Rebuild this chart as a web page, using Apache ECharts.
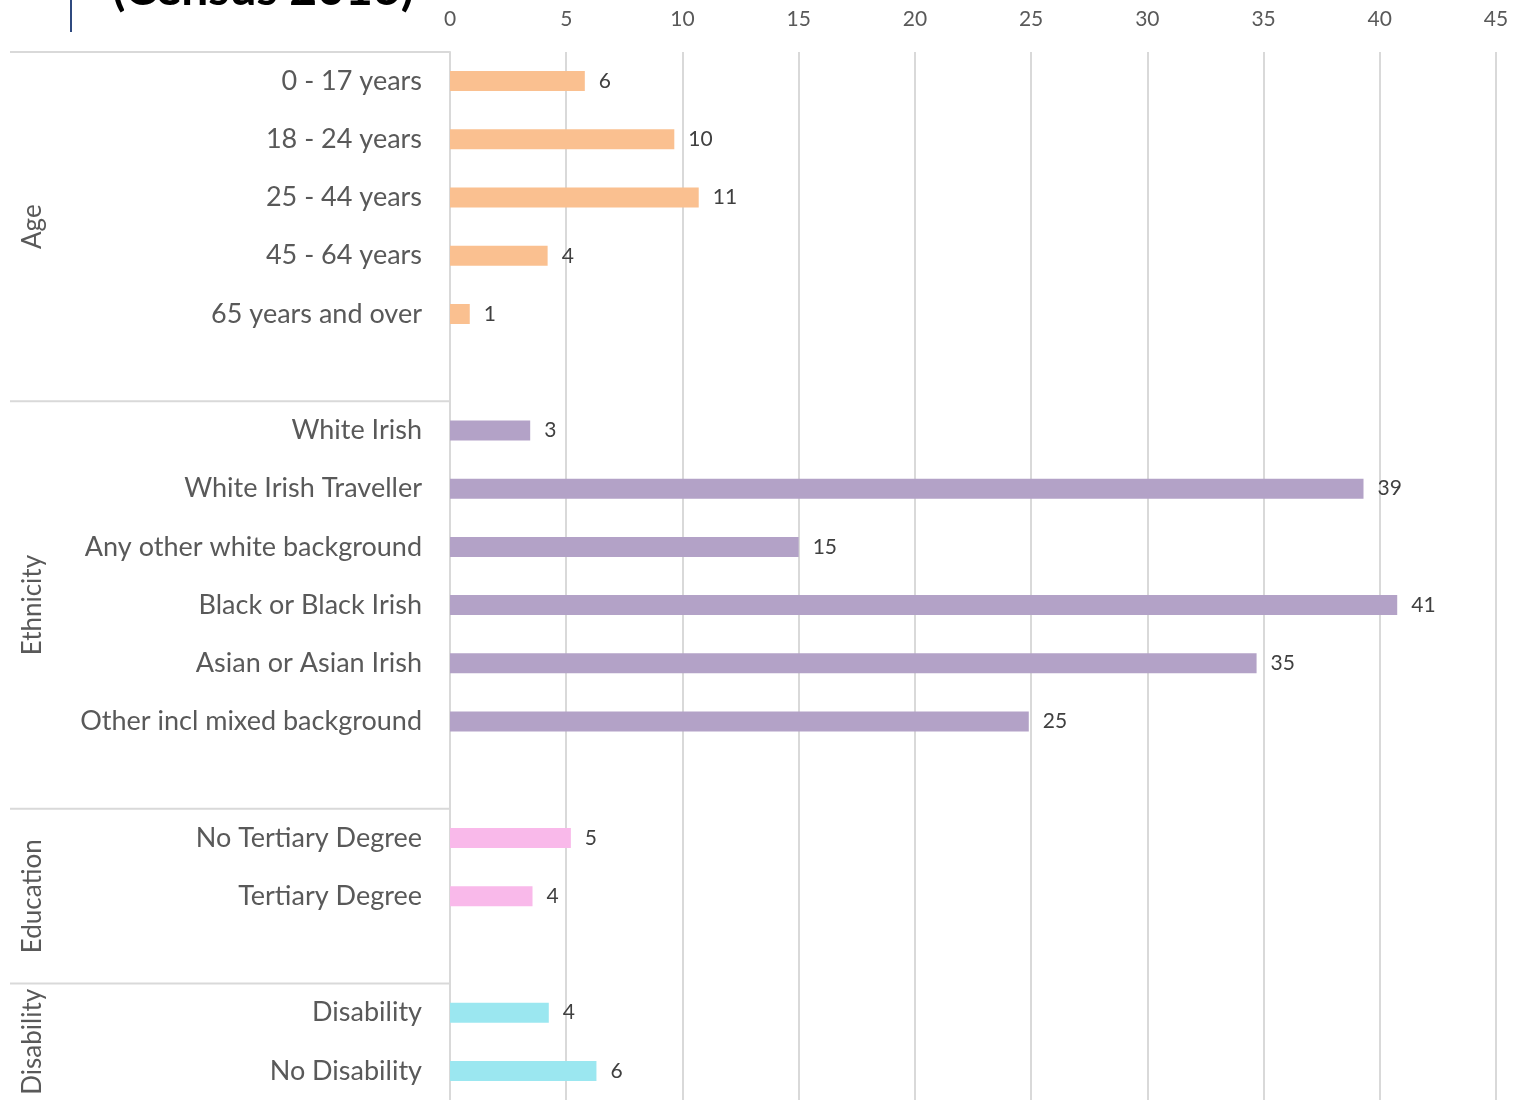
<!DOCTYPE html>
<html lang="en">
<head>
<meta charset="utf-8">
<title>Census 2016</title>
<script src="https://cdn.jsdelivr.net/npm/echarts@6/dist/echarts.min.js"></script>
<style>
html,body{margin:0;padding:0;background:#fff;}
#main{width:1528px;height:1100px;}
</style>
</head>
<body>
<div id="main"></div>
<script>
// data
var groupNames = ['Age', 'Ethnicity', 'Education', 'Disability'];
var ageCats = ['0 - 17 years', '18 - 24 years', '25 - 44 years', '45 - 64 years', '65 years and over'];
var ageVals = [5.8, 9.65, 10.7, 4.2, 0.85];
var ethCats = ['White Irish', 'White Irish Traveller', 'Any other white background', 'Black or Black Irish', 'Asian or Asian Irish', 'Other incl mixed background'];
var ethVals = [3.45, 39.3, 15.0, 40.75, 34.7, 24.9];
var eduCats = ['No Tertiary Degree', 'Tertiary Degree'];
var eduVals = [5.2, 3.55];
var disCats = ['Disability', 'No Disability'];
var disVals = [4.25, 6.3];
var xTicks = [0, 45, 5]; // min, max, interval

var groupColors = ['#FAC090', '#B3A2C7', '#F9B9EA', '#9BE7F0'];
var font = 'Lato, "Open Sans", sans-serif';

// build category list with a blank spacer row after each group except last
var groups = [[ageCats, ageVals], [ethCats, ethVals], [eduCats, eduVals], [disCats, disVals]];
var cats = [], vals = [], starts = [];
groups.forEach(function (g, gi) {
  starts.push(cats.length);
  g[0].forEach(function (c, i) {
    cats.push(c);
    vals.push({ value: g[1][i], itemStyle: { color: groupColors[gi] } });
  });
  if (gi < groups.length - 1) {
    cats.push(new Array(gi + 2).join(' '));
    vals.push('-');
  }
});
starts.push(cats.length);

var rowH = 58.4;
var chart = echarts.init(document.getElementById('main'));
chart.setOption({
  animation: false,
  backgroundColor: '#fff',
  textStyle: { fontFamily: font },
  grid: { left: 450, top: 52, width: 1046, height: rowH * cats.length },
  xAxis: {
    type: 'value', position: 'top',
    min: xTicks[0], max: xTicks[1], interval: xTicks[2],
    axisLine: { show: false }, axisTick: { show: false },
    axisLabel: { fontSize: 21, color: '#595959', margin: 22, fontFamily: font },
    splitLine: { lineStyle: { color: '#d9d9d9', width: 2 } }
  },
  yAxis: {
    type: 'category', inverse: true, data: cats,
    axisLine: { lineStyle: { color: '#d9d9d9', width: 2 } },
    axisTick: { show: false },
    axisLabel: { fontSize: 27, color: '#595959', margin: 28, fontFamily: font }
  },
  series: [{
    type: 'bar', data: vals, barWidth: 20,
    label: {
      show: true, position: 'right', distance: 14,
      fontSize: 21, color: '#404040', fontFamily: font,
      formatter: function (p) { return Math.round(p.value); }
    }
  }]
});

// group separators and rotated group labels, positioned from the axis
var band = rowH;
var els = [];
for (var gi = 0; gi < groupNames.length; gi++) {
  var yTop = chart.convertToPixel({ yAxisIndex: 0 }, starts[gi]) - band / 2;
  var yBot = chart.convertToPixel({ yAxisIndex: 0 }, starts[gi + 1] - 1) + band / 2;
  els.push({
    type: 'line',
    shape: { x1: 10, y1: yTop, x2: 450, y2: yTop },
    style: { stroke: '#d9d9d9', lineWidth: 2 }
  });
  els.push({
    type: 'text', x: 33, y: (yTop + yBot) / 2, rotation: Math.PI / 2,
    style: {
      text: groupNames[gi], fontSize: 26, fill: '#595959', fontFamily: font,
      align: 'center', verticalAlign: 'middle'
    }
  });
}
// title (cut off at the top) and its accent bar
els.push({
  type: 'text', x: 263, y: 14,
  style: {
    text: '(Census 2016)', fontSize: 48, fontWeight: 'bold', fill: '#000',
    fontFamily: font, align: 'center', verticalAlign: 'bottom'
  }
});
els.push({
  type: 'line', shape: { x1: 71, y1: 0, x2: 71, y2: 32 },
  style: { stroke: '#2F4A7F', lineWidth: 2 }
});
chart.setOption({ graphic: els });
</script>
</body>
</html>
